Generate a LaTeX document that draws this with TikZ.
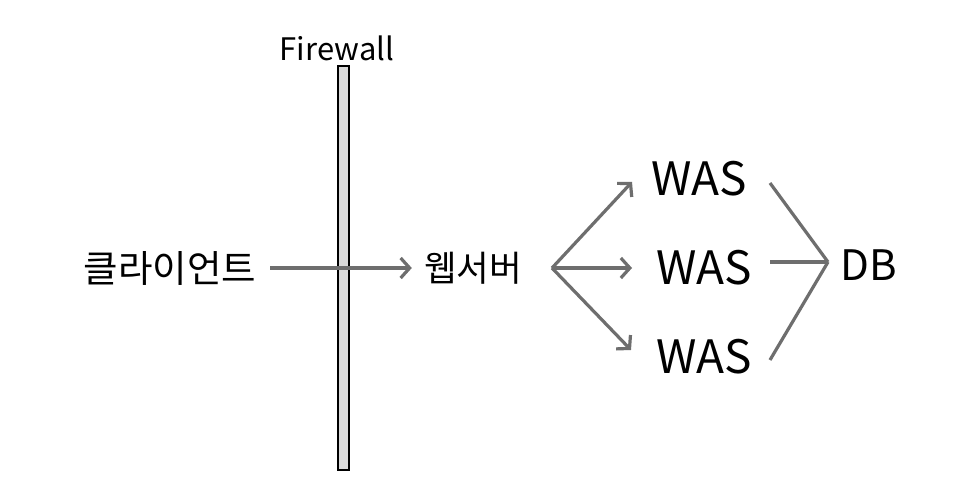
\documentclass[tikz,border=0pt]{standalone}
\usepackage{fontspec}
\setmainfont{Noto Sans CJK KR}
\usetikzlibrary{arrows.meta}
\definecolor{arrowgray}{HTML}{6E6E6E}
\definecolor{wallgray}{HTML}{DADADA}
\tikzset{
  lbl/.style={inner sep=0pt, text=black},
  en/.style={lbl, font=\fontsize{46}{50}\selectfont},
  conn/.style={draw=arrowgray, line width=3.2pt},
  arr/.style={conn, -{Straight Barb[length=9pt, width=20pt, line width=3.2pt]}},
}
\begin{document}
\begin{tikzpicture}[x=1pt, y=1pt]
\useasboundingbox[fill=white] (0,0) rectangle (970,498);
% firewall
\draw[line width=2.4pt, fill=wallgray] (338,28) rectangle (349,432);
\node[lbl, font=\fontsize{31}{34}\selectfont] (fw) at (337,450) {Firewall};
% nodes
\node[lbl, font=\fontsize{37.5}{40}\selectfont] (client) at (170,230) {클라이언트};
\node[lbl, font=\fontsize{35.5}{40}\selectfont] (web) at (473,230) {웹서버};
\node[en] (was1) at (699,319) {WAS};
\node[en] (was2) at (704,230) {WAS};
\node[en] (was3) at (704,141) {WAS};
\node[lbl, font=\fontsize{42}{46}\selectfont] (db) at (869,233) {DB};
\coordinate (split) at (552,230);
\coordinate (join) at (828,236);
% connectors
\draw[arr] ([xshift=14pt]client.east) -- ([xshift=-12pt]web.west);
\draw[arr] (split) -- (632,316);
\draw[arr] (split) -- (632,230);
\draw[arr] (split) -- (631,148);
\draw[conn] (770,315) -- (join);
\draw[conn] (770,236) -- (join);
\draw[conn] (770,138) -- (join);
\end{tikzpicture}
\end{document}
